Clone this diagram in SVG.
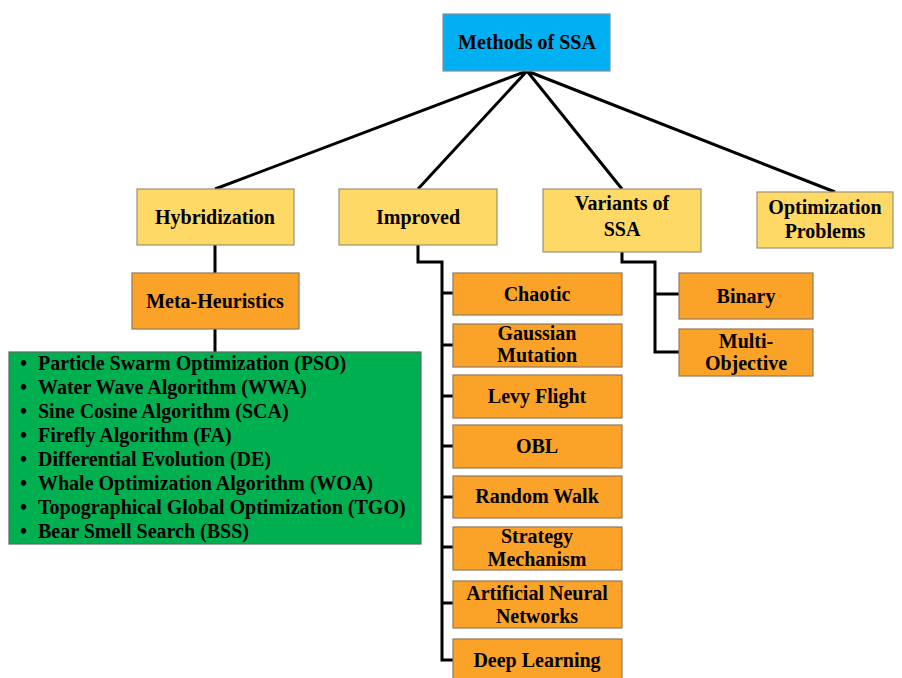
<svg xmlns="http://www.w3.org/2000/svg" width="902" height="678" viewBox="0 0 902 678">
<style>
.t{font-family:"Liberation Serif","Times New Roman",serif;font-weight:bold;font-size:20px;fill:#000;text-anchor:middle}
.l{font-family:"Liberation Serif","Times New Roman",serif;font-weight:bold;font-size:20px;fill:#000}
.blue{fill:#00B0F0;stroke:#7f8f99;stroke-width:1.2}
.yel{fill:#FFD966;stroke:#9c9275;stroke-width:1.2}
.org{fill:#FBA328;stroke:#8f7a5a;stroke-width:1.2}
.grn{fill:#00B050;stroke:#5a6b5f;stroke-width:1.2}
.c{fill:none;stroke:#000;stroke-width:3}
</style>
<rect width="902" height="678" fill="#fff"/>
<g id="connectors">
<path class="c" d="M527 71 L215 189 M527 71 L418 189 M527 71 L622 189 M527 71 L835 192"/>
<path class="c" d="M215 245 V273 M215 329 V352"/>
<path class="c" d="M418 245 V262 H442 V660 H453 M442 293 H453 M442 345 H453 M442 396 H453 M442 446 H453 M442 497 H453 M442 547 H453 M442 603 H453"/>
<path class="c" d="M622 252 V262 H655 V352 H679 M655 294 H679"/>
</g>
<g id="methods"><rect class="blue" x="443" y="14" width="167" height="57"/><text class="t" x="527" y="49">Methods of SSA</text></g>
<g id="hybridization"><rect class="yel" x="137" y="189" width="157" height="56"/><text class="t" x="215" y="224">Hybridization</text></g>
<g id="improved"><rect class="yel" x="339" y="189" width="158" height="56"/><text class="t" x="418" y="224">Improved</text></g>
<g id="variants"><rect class="yel" x="543" y="189" width="158" height="63"/><text class="t" x="622" y="210">Variants of</text><text class="t" x="622" y="236">SSA</text></g>
<g id="optimization"><rect class="yel" x="757" y="192" width="136" height="56"/><text class="t" x="825" y="214">Optimization</text><text class="t" x="825" y="238">Problems</text></g>
<g id="metaheuristics"><rect class="org" x="132" y="273" width="167" height="56"/><text class="t" x="215" y="308">Meta-Heuristics</text></g>
<g id="list"><rect class="grn" x="9" y="352" width="412" height="192"/>
<g class="l">
<text x="20" y="370">•</text><text x="38" y="370">Particle Swarm Optimization (PSO)</text>
<text x="20" y="394">•</text><text x="38" y="394">Water Wave Algorithm (WWA)</text>
<text x="20" y="418">•</text><text x="38" y="418">Sine Cosine Algorithm (SCA)</text>
<text x="20" y="442">•</text><text x="38" y="442">Firefly Algorithm (FA)</text>
<text x="20" y="466">•</text><text x="38" y="466">Differential Evolution (DE)</text>
<text x="20" y="490">•</text><text x="38" y="490">Whale Optimization Algorithm (WOA)</text>
<text x="20" y="514">•</text><text x="38" y="514">Topographical Global Optimization (TGO)</text>
<text x="20" y="538">•</text><text x="38" y="538">Bear Smell Search (BSS)</text>
</g></g>
<g id="chaotic"><rect class="org" x="453" y="273" width="169" height="42"/><text class="t" x="537" y="301">Chaotic</text></g>
<g id="gaussian"><rect class="org" x="453" y="324" width="169" height="43"/><text class="t" x="537" y="340">Gaussian</text><text class="t" x="537" y="362">Mutation</text></g>
<g id="levy"><rect class="org" x="453" y="375" width="169" height="43"/><text class="t" x="537" y="403">Levy Flight</text></g>
<g id="obl"><rect class="org" x="453" y="425" width="169" height="43"/><text class="t" x="537" y="453">OBL</text></g>
<g id="randomwalk"><rect class="org" x="453" y="476" width="169" height="42"/><text class="t" x="537" y="503">Random Walk</text></g>
<g id="strategy"><rect class="org" x="453" y="527" width="169" height="43"/><text class="t" x="537" y="543">Strategy</text><text class="t" x="537" y="566">Mechanism</text></g>
<g id="ann"><rect class="org" x="453" y="581" width="169" height="47"/><text class="t" x="537" y="600">Artificial Neural</text><text class="t" x="537" y="623">Networks</text></g>
<g id="deeplearning"><rect class="org" x="453" y="639" width="169" height="45"/><text class="t" x="537" y="667">Deep Learning</text></g>
<g id="binary"><rect class="org" x="679" y="273" width="134" height="46"/><text class="t" x="746" y="303">Binary</text></g>
<g id="multiobjective"><rect class="org" x="679" y="329" width="134" height="47"/><text class="t" x="746" y="348">Multi-</text><text class="t" x="746" y="370">Objective</text></g>
</svg>
